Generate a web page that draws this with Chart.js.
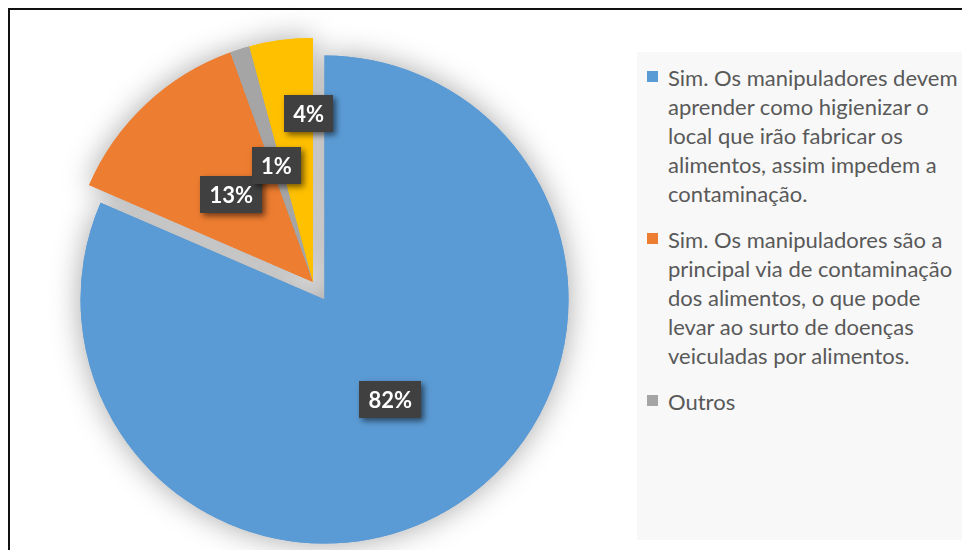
<!DOCTYPE html>
<html>
<head>
<meta charset="utf-8">
<title>Pie</title>
<script src="https://cdn.jsdelivr.net/npm/chart.js@4.4.0/dist/chart.umd.min.js"></script>
<style>
    html, body {
            margin: 0;
            padding: 0;
            background: #ffffff;
            overflow: hidden;
            width: 962px;
            height: 550px;
    }
    #frame {
            position: absolute;
            left: 8px;
            top: 8px;
            width: 1000px;
            height: 600px;
            border: 2px solid #111111;
    }
    #chartBox {
            position: absolute;
            left: 0;
            top: 0;
            width: 626px;
            height: 564px;
    }
    #legendBox {
            position: absolute;
            left: 637px;
            top: 52px;
            width: 340px;
            height: 488px;
            padding-top: 11px;
            box-sizing: border-box;
            background: #f8f8f8;
            font-family: Lato, sans-serif;
            font-size: 22px;
            color: #595959;
    }
    .item {
            position: relative;
            padding-left: 31px;
            line-height: 29px;
            margin-bottom: 17px;
            white-space: nowrap;
    }
    .item .mark {
            position: absolute;
            left: 10px;
            top: 8px;
            width: 11px;
            height: 11px;
    }
</style>
</head>
<body>
<div id="frame"></div>
<div id="chartBox"><canvas id="pie"></canvas></div>
<div id="legendBox"></div>

<script>
// categories (multi-line labels, as in the original legend)
var labels = [
    ["Sim. Os manipuladores devem", "aprender como higienizar o", "local que irão fabricar os", "alimentos, assim impedem a", "contaminação."],
    ["Sim. Os manipuladores são a", "principal via de contaminação", "dos alimentos, o que pode", "levar ao surto de doenças", "veiculadas por alimentos."],
    ["Outros"],
    [""]
];
// share of answers, %
var values = [81.5, 13.0, 1.3, 4.2];
var colors = ['#5B9BD5', '#ED7D31', '#A5A5A5', '#FFC000'];

// how far each slice is pulled out (px)
var explode = [21, 0, 0, 0];
// where the labels sit: fraction across the slice angle, fraction of radius
var labelAt = [[0.5, 0.49], [0.5, 0.49], [0.5, 0.5], [0.9, 0.69]];

var explodePlugin = {
    id: 'explode',
    afterDatasetsUpdate: function (chart) {
        var meta = chart.getDatasetMeta(0);
        meta.data.forEach(function (arc, i) {
            if (!explode[i]) return;
            var mid = (arc.startAngle + arc.endAngle) / 2;
            arc.x += Math.cos(mid) * explode[i];
            arc.y += Math.sin(mid) * explode[i];
        });
    }
};

var shadowPlugin = {
    id: 'pieShadow',
    beforeDatasetsDraw: function (chart) {
        var ctx = chart.ctx;
        var meta = chart.getDatasetMeta(0);
        ctx.save();
        ctx.shadowColor = 'rgba(0,0,0,0.35)';
        ctx.shadowBlur = 30;
        meta.data.forEach(function (arc) { arc.draw(ctx); });
        ctx.restore();
    }
};

var labelPlugin = {
    id: 'boxLabels',
    afterDatasetsDraw: function (chart) {
        var ctx = chart.ctx;
        var meta = chart.getDatasetMeta(0);
        var total = values.reduce(function (a, b) { return a + b; }, 0);
        ctx.save();
        ctx.font = 'bold 22px Lato, sans-serif';
        ctx.textAlign = 'center';
        ctx.textBaseline = 'middle';
        meta.data.forEach(function (arc, i) {
            var txt = Math.round(values[i] / total * 100) + '%';
            var a = arc.startAngle + (arc.endAngle - arc.startAngle) * labelAt[i][0];
            var r = arc.outerRadius * labelAt[i][1];
            var x = arc.x + Math.cos(a) * r;
            var y = arc.y + Math.sin(a) * r;
            var w = ctx.measureText(txt).width + 18;
            var h = 37;
            ctx.save();
            ctx.shadowColor = 'rgba(0,0,0,0.55)';
            ctx.shadowBlur = 6;
            ctx.shadowOffsetX = 3;
            ctx.shadowOffsetY = 3;
            ctx.fillStyle = '#404040';
            ctx.fillRect(Math.round(x - w / 2), Math.round(y - h / 2), Math.round(w), h);
            ctx.restore();
            ctx.fillStyle = '#ffffff';
            ctx.fillText(txt, x, y + 1);
        });
        ctx.restore();
    }
};

var ctx = document.getElementById('pie').getContext('2d');
var chart = new Chart(ctx, {
    type: 'pie',
    data: {
        labels: labels,
        datasets: [{
            data: values,
            backgroundColor: colors,
            borderWidth: 0
        }]
    },
    options: {
        responsive: true,
        maintainAspectRatio: false,
        animation: false,
        radius: 244,
        layout: { padding: 0 },
        plugins: {
            legend: { display: false },
            tooltip: { enabled: false }
        }
    },
    plugins: [explodePlugin, shadowPlugin, labelPlugin]
});

// legend on the right, built from the chart's own labels (last one is cut off in the original)
var legendBox = document.getElementById('legendBox');
chart.data.labels.forEach(function (lab, i) {
    if (!lab.join('')) return;
    var div = document.createElement('div');
    div.className = 'item';
    var mark = document.createElement('span');
    mark.className = 'mark';
    mark.style.background = colors[i];
    div.appendChild(mark);
    lab.forEach(function (line, j) {
        if (j) div.appendChild(document.createElement('br'));
        div.appendChild(document.createTextNode(line));
    });
    legendBox.appendChild(div);
});
</script>
</body>
</html>
